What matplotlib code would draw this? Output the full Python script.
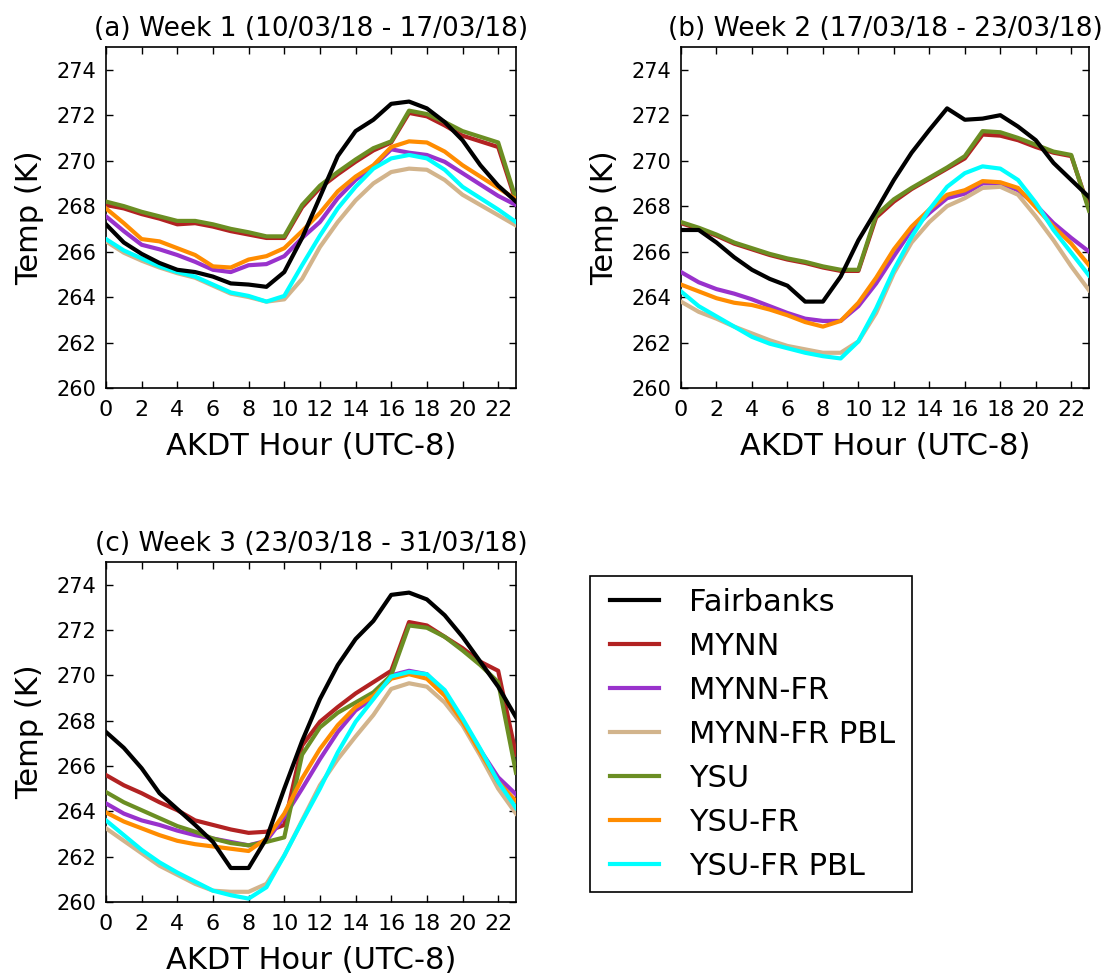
import numpy as np
import matplotlib
matplotlib.use("Agg")
import matplotlib.pyplot as plt
from matplotlib.patches import Rectangle

plt.rcParams['font.family'] = ['DejaVu Sans']

hours = np.arange(24)
xticks = list(range(0, 24, 2))
yticks = list(range(260, 276, 2))

series_names = ["Fairbanks", "MYNN", "MYNN-FR", "MYNN-FR PBL", "YSU", "YSU-FR", "YSU-FR PBL"]
series_colors = ["black", "#b22222", "#9932cc", "#d2b48c", "#6b8e23", "#ff8c00", "#00ffff"]

titles = ["(a) Week 1 (10/03/18 - 17/03/18)",
          "(b) Week 2 (17/03/18 - 23/03/18)",
          "(c) Week 3 (23/03/18 - 31/03/18)"]

# Week 1 mean diurnal temperature (K)
fair_w1 = [267.2, 266.4, 265.9, 265.5, 265.2, 265.1, 264.9, 264.6, 264.55, 264.45, 265.1, 266.6,
           268.4, 270.2, 271.3, 271.8, 272.5, 272.6, 272.3, 271.7, 270.9, 269.8, 268.9, 268.2]
mynn_w1 = [268.05, 267.9, 267.65, 267.45, 267.2, 267.25, 267.1, 266.9, 266.75, 266.6, 266.6, 267.95,
           268.8, 269.4, 269.95, 270.45, 270.8, 272.1, 271.95, 271.55, 271.1, 270.85, 270.6, 268.2]
mynnfr_w1 = [267.55, 266.9, 266.3, 266.1, 265.85, 265.55, 265.2, 265.1, 265.4, 265.45, 265.8, 266.6,
             267.3, 268.35, 269.15, 269.75, 270.5, 270.35, 270.25, 269.95, 269.45, 268.95, 268.45, 268.05]
mynnfrpbl_w1 = [266.45, 265.95, 265.6, 265.3, 265.05, 264.85, 264.5, 264.15, 264.0, 263.8, 263.9, 264.8,
                266.2, 267.3, 268.25, 269.0, 269.5, 269.65, 269.6, 269.15, 268.5, 268.05, 267.6, 267.15]
ysu_w1 = [268.2, 268.0, 267.75, 267.55, 267.35, 267.35, 267.2, 267.0, 266.85, 266.67, 266.67, 268.05,
          268.9, 269.5, 270.05, 270.55, 270.85, 272.2, 272.05, 271.7, 271.3, 271.05, 270.8, 268.3]
ysufr_w1 = [267.9, 267.25, 266.55, 266.45, 266.15, 265.85, 265.35, 265.3, 265.65, 265.8, 266.15, 266.9,
            267.7, 268.65, 269.3, 269.8, 270.6, 270.85, 270.8, 270.4, 269.8, 269.3, 268.8, 268.3]
ysufrpbl_w1 = [266.55, 266.05, 265.7, 265.35, 265.1, 264.9, 264.55, 264.2, 264.05, 263.8, 264.05, 265.4,
               266.7, 267.9, 268.85, 269.65, 270.1, 270.25, 270.1, 269.6, 268.85, 268.35, 267.85, 267.3]

# Week 2
fair_w2 = [266.95, 266.95, 266.4, 265.75, 265.2, 264.8, 264.5, 263.8, 263.8, 264.9, 266.5, 267.8,
           269.15, 270.35, 271.35, 272.3, 271.8, 271.85, 272.0, 271.5, 270.9, 269.9, 269.15, 268.4]
mynn_w2 = [267.25, 267.0, 266.7, 266.35, 266.1, 265.85, 265.65, 265.5, 265.3, 265.15, 265.15, 267.5,
           268.2, 268.75, 269.2, 269.65, 270.1, 271.15, 271.1, 270.9, 270.6, 270.35, 270.2, 267.9]
mynnfr_w2 = [265.1, 264.65, 264.35, 264.15, 263.9, 263.6, 263.3, 263.05, 262.95, 262.95, 263.6, 264.6,
             265.8, 266.95, 267.7, 268.35, 268.55, 269.0, 269.0, 268.7, 268.05, 267.25, 266.6, 266.0]
mynnfrpbl_w2 = [263.8, 263.35, 263.05, 262.7, 262.4, 262.1, 261.85, 261.7, 261.55, 261.55, 262.05, 263.3,
                265.05, 266.4, 267.3, 268.0, 268.35, 268.8, 268.85, 268.5, 267.55, 266.5, 265.35, 264.3]
ysu_w2 = [267.3, 267.05, 266.75, 266.4, 266.15, 265.9, 265.7, 265.55, 265.35, 265.2, 265.2, 267.6,
          268.3, 268.8, 269.25, 269.7, 270.2, 271.3, 271.25, 271.0, 270.7, 270.4, 270.25, 267.8]
ysufr_w2 = [264.55, 264.25, 263.95, 263.75, 263.65, 263.45, 263.2, 262.9, 262.7, 262.95, 263.75, 264.85,
            266.1, 267.1, 267.85, 268.5, 268.7, 269.1, 269.05, 268.8, 267.95, 267.1, 266.35, 265.4]
ysufrpbl_w2 = [264.25, 263.6, 263.15, 262.7, 262.25, 261.95, 261.75, 261.55, 261.4, 261.3, 262.05, 263.5,
               265.2, 266.65, 267.85, 268.85, 269.45, 269.75, 269.65, 269.15, 268.15, 266.95, 265.95, 264.95]

# Week 3
fair_w3 = [267.5, 266.8, 265.9, 264.8, 264.1, 263.4, 262.65, 261.5, 261.5, 262.8, 265.0, 267.1,
           268.95, 270.45, 271.6, 272.4, 273.55, 273.65, 273.35, 272.65, 271.7, 270.6, 269.5, 268.15]
mynn_w3 = [265.6, 265.15, 264.8, 264.4, 264.05, 263.6, 263.4, 263.2, 263.05, 263.1, 263.4, 266.9,
           267.95, 268.6, 269.2, 269.7, 270.2, 272.35, 272.2, 271.7, 271.2, 270.6, 270.2, 266.5]
mynnfr_w3 = [264.35, 263.9, 263.6, 263.4, 263.15, 262.95, 262.8, 262.65, 262.5, 262.7, 263.75, 265.0,
             266.3, 267.5, 268.45, 269.0, 270.0, 270.2, 270.05, 269.25, 268.0, 266.7, 265.5, 264.75]
mynnfrpbl_w3 = [263.25, 262.7, 262.15, 261.6, 261.2, 260.8, 260.5, 260.45, 260.45, 260.8, 262.05, 263.6,
                265.15, 266.3, 267.3, 268.25, 269.4, 269.65, 269.5, 268.8, 267.8, 266.45, 265.0, 263.9]
ysu_w3 = [264.85, 264.4, 264.05, 263.7, 263.35, 263.1, 262.8, 262.6, 262.5, 262.65, 262.85, 266.5,
          267.7, 268.35, 268.8, 269.25, 270.0, 272.2, 272.1, 271.7, 271.1, 270.45, 269.7, 265.7]
ysufr_w3 = [263.95, 263.55, 263.25, 262.95, 262.7, 262.55, 262.45, 262.35, 262.25, 262.8, 263.9, 265.45,
            266.75, 267.8, 268.6, 269.1, 269.85, 270.05, 269.85, 269.1, 267.95, 266.6, 265.3, 264.45]
ysufrpbl_w3 = [263.6, 262.95, 262.3, 261.75, 261.3, 260.9, 260.5, 260.3, 260.15, 260.65, 262.05, 263.55,
               265.0, 266.6, 267.95, 268.95, 269.95, 270.15, 270.05, 269.35, 268.1, 266.75, 265.3, 264.15]

weeks = [
    [fair_w1, mynn_w1, mynnfr_w1, mynnfrpbl_w1, ysu_w1, ysufr_w1, ysufrpbl_w1],
    [fair_w2, mynn_w2, mynnfr_w2, mynnfrpbl_w2, ysu_w2, ysufr_w2, ysufrpbl_w2],
    [fair_w3, mynn_w3, mynnfr_w3, mynnfrpbl_w3, ysu_w3, ysufr_w3, ysufrpbl_w3],
]

W, H = 1105, 976
fig = plt.figure(figsize=(W / 100, H / 100), dpi=100)

# axes boxes in pixel coordinates: left, top, right, bottom
boxes = [(106, 47, 516, 388), (681, 47, 1089, 388), (106, 562, 516, 902)]

handles = None
for box, title, data in zip(boxes, titles, weeks):
    l, t, r, b = box
    ax = fig.add_axes([l / W, 1 - b / H, (r - l) / W, (b - t) / H])
    lines = []
    for i, (vals, name, col) in enumerate(zip(data, series_names, series_colors)):
        z = 10 if name == "Fairbanks" else 2 + i
        ln, = ax.plot(hours, vals, color=col, lw=3, label=name, zorder=z)
        lines.append(ln)
    if handles is None:
        handles = lines
    ax.set_xlim(0, 23)
    ax.set_ylim(260, 275)
    ax.set_xticks(xticks)
    ax.set_yticks(yticks)
    ax.tick_params(direction='in', top=True, right=True, length=5, width=1)
    ax.tick_params(axis='x', labelsize=16, pad=9)
    ax.tick_params(axis='y', labelsize=15, pad=7)
    ax.set_title(title, fontsize=19, pad=8)
    ax.set_xlabel("AKDT Hour (UTC-8)", fontsize=22, labelpad=8)
    ax.set_ylabel("Temp (K)", fontsize=22, labelpad=9)
    for sp in ax.spines.values():
        sp.set_linewidth(1.2)

# legend entries without a frame, boxed by a separate rectangle
leg = fig.legend(handles, series_names, loc='upper left',
                 bbox_to_anchor=(610 / W, 1 - 588 / H), bbox_transform=fig.transFigure,
                 fontsize=22, handlelength=1.6, handletextpad=1.0, labelspacing=0.49,
                 borderpad=0, borderaxespad=0, frameon=False)
frame = Rectangle((590 / W, 1 - 892 / H), (912 - 590) / W, (892 - 576) / H,
                  transform=fig.transFigure, fill=False, edgecolor='black', linewidth=1.2)
fig.add_artist(frame)

fig.savefig("out.png", dpi=100)
